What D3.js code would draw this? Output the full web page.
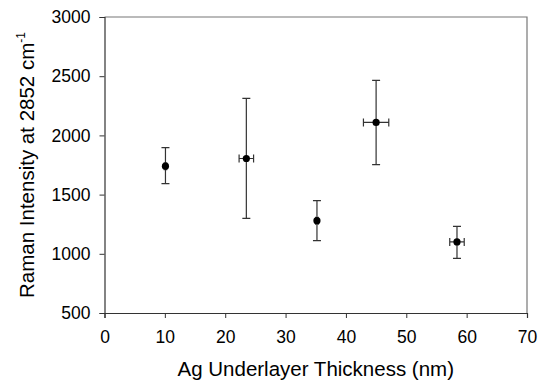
<!DOCTYPE html>
<html>
<head>
<meta charset="utf-8">
<script src="https://cdn.jsdelivr.net/npm/d3@7"></script>
<style>
  body { margin: 0; background: #fff; }
  svg { display: block; font-family: "Liberation Sans", Arial, sans-serif; }
</style>
</head>
<body>
<svg id="chart" width="539" height="381"></svg>
<script>
// thickness (nm) with x error, intensity with y error
const thickness = [10.1, 23.5, 35.2, 45.0, 58.4];
const thicknessErr = [0.2, 1.2, 0.2, 2.1, 1.2];
const intensity = [1740, 1805, 1280, 2110, 1100];
const intensityLow = [1592, 1300, 1111, 1753, 962];
const intensityHigh = [1896, 2313, 1449, 2465, 1232];
const xTicks = [0, 10, 20, 30, 40, 50, 60, 70];
const yTicks = [500, 1000, 1500, 2000, 2500, 3000];

const margin = {top: 17, right: 12, bottom: 68, left: 104.5};
const width = 539, height = 381;

const svg = d3.select("#chart");

const x = d3.scaleLinear()
    .domain([0, 70])
    .range([margin.left, width - margin.right]);
const y = d3.scaleLinear()
    .domain([500, 3000])
    .range([height - margin.bottom, margin.top]);

// frame (top and right)
svg.append("path")
    .attr("d", `M${x(0)},${y(3000)}H${x(70)}V${y(500)}`)
    .attr("fill", "none")
    .attr("stroke", "#777")
    .attr("stroke-width", 1.2);

const xAxis = svg.append("g")
    .attr("transform", `translate(0,${y(500)})`)
    .call(d3.axisBottom(x).tickValues(xTicks).tickFormat(d3.format("d"))
        .tickSize(5).tickPadding(13));
const yAxis = svg.append("g")
    .attr("transform", `translate(${x(0)},0)`)
    .call(d3.axisLeft(y).tickValues(yTicks).tickFormat(d3.format("d"))
        .tickSize(5).tickPadding(9));

[xAxis, yAxis].forEach(g => {
    g.select(".domain").attr("stroke", "#333").attr("stroke-width", 1.2);
    g.selectAll(".tick line").attr("stroke", "#333");
    g.selectAll(".tick text")
        .attr("fill", "#000")
        .style("font-size", "17.5px")
        .style("font-family", "Liberation Sans, Arial, sans-serif");
});

const data = thickness.map((t, i) => ({
    t, te: thicknessErr[i], v: intensity[i], lo: intensityLow[i], hi: intensityHigh[i]
}));

const err = svg.append("g")
    .attr("stroke", "#333")
    .attr("stroke-width", 1.2)
    .attr("fill", "none");

const cap = 4;
err.selectAll("path.v")
    .data(data)
  .enter().append("path")
    .attr("class", "v")
    .attr("d", d => `M${x(d.t)},${y(d.lo)}V${y(d.hi)}` +
        `M${x(d.t) - cap},${y(d.lo)}h${cap * 2}` +
        `M${x(d.t) - cap},${y(d.hi)}h${cap * 2}`);

err.selectAll("path.h")
    .data(data)
  .enter().append("path")
    .attr("class", "h")
    .attr("d", d => `M${x(d.t - d.te)},${y(d.v)}H${x(d.t + d.te)}` +
        `M${x(d.t - d.te)},${y(d.v) - cap}v${cap * 2}` +
        `M${x(d.t + d.te)},${y(d.v) - cap}v${cap * 2}`);

svg.append("g")
    .selectAll("circle")
    .data(data)
  .enter().append("circle")
    .attr("cx", d => x(d.t))
    .attr("cy", d => y(d.v))
    .attr("r", 3.6)
    .attr("fill", "#000");

// axis titles
svg.append("text")
    .attr("x", (x(0) + x(70)) / 2)
    .attr("y", 376)
    .attr("text-anchor", "middle")
    .style("font-size", "20.5px")
    .text("Ag Underlayer Thickness (nm)");

const yt = svg.append("text")
    .attr("transform", `translate(34,${(y(500) + y(3000)) / 2}) rotate(-90)`)
    .attr("text-anchor", "middle")
    .style("font-size", "20.5px");
yt.append("tspan").text("Raman Intensity at 2852 cm");
yt.append("tspan").attr("dy", -9).style("font-size", "12px").text("-1");
</script>
</body>
</html>
